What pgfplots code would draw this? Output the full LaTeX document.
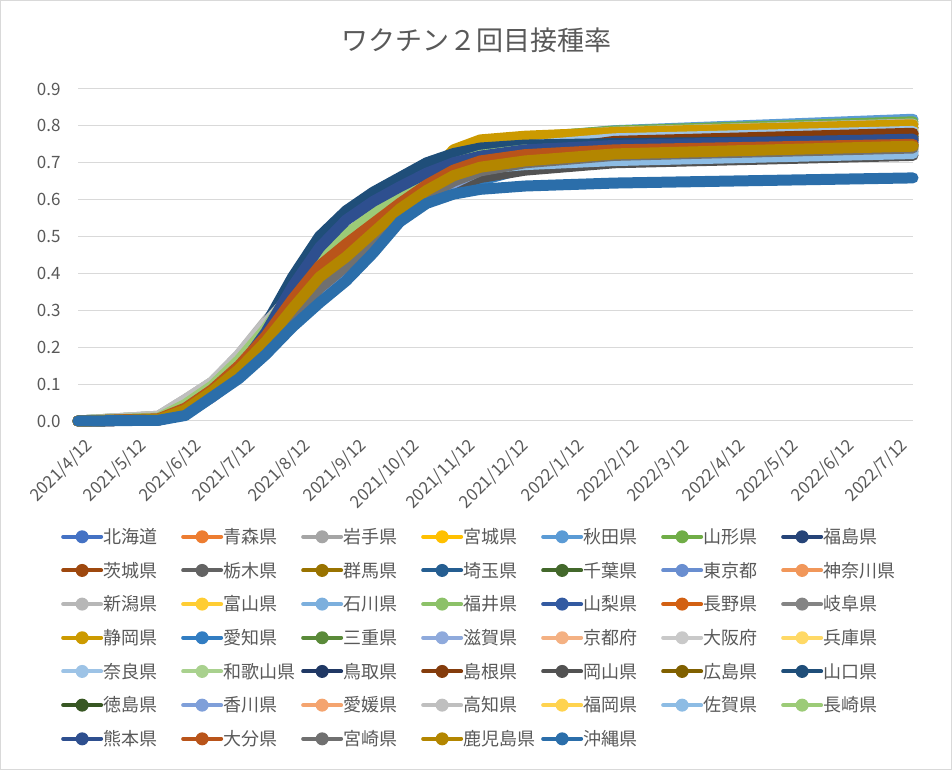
\documentclass[border=0pt]{standalone}
\usepackage{fontspec}
\setmainfont{Noto Sans CJK JP}
\usepackage{pgfplots}
\usepackage{pgfplotstable}
\pgfplotsset{compat=1.18}

\definecolor{txt}{HTML}{595959}
\definecolor{gridc}{HTML}{D9D9D9}
\definecolor{c1}{HTML}{4472C4}\definecolor{c2}{HTML}{ED7D31}\definecolor{c3}{HTML}{A5A5A5}
\definecolor{c4}{HTML}{FFC000}\definecolor{c5}{HTML}{5B9BD5}\definecolor{c6}{HTML}{70AD47}
\definecolor{c7}{HTML}{264478}\definecolor{c8}{HTML}{9E480E}\definecolor{c9}{HTML}{636363}
\definecolor{c10}{HTML}{997300}\definecolor{c11}{HTML}{255E91}\definecolor{c12}{HTML}{43682B}
\definecolor{c13}{HTML}{698ED0}\definecolor{c14}{HTML}{F1975A}\definecolor{c15}{HTML}{B7B7B7}
\definecolor{c16}{HTML}{FFCD33}\definecolor{c17}{HTML}{7CAFDD}\definecolor{c18}{HTML}{8CC168}
\definecolor{c19}{HTML}{335AA1}\definecolor{c20}{HTML}{D26012}\definecolor{c21}{HTML}{848484}
\definecolor{c22}{HTML}{CC9A00}\definecolor{c23}{HTML}{327DC2}\definecolor{c24}{HTML}{5A8A39}
\definecolor{c25}{HTML}{8FAADC}\definecolor{c26}{HTML}{F4B183}\definecolor{c27}{HTML}{C9C9C9}
\definecolor{c28}{HTML}{FFD966}\definecolor{c29}{HTML}{9DC3E6}\definecolor{c30}{HTML}{A9D18E}
\definecolor{c31}{HTML}{203864}\definecolor{c32}{HTML}{843C0C}\definecolor{c33}{HTML}{525252}
\definecolor{c34}{HTML}{806000}\definecolor{c35}{HTML}{1F4E79}\definecolor{c36}{HTML}{385723}
\definecolor{c37}{HTML}{7F9FD9}\definecolor{c38}{HTML}{F4A46F}\definecolor{c39}{HTML}{BFBFBF}
\definecolor{c40}{HTML}{FFD34F}\definecolor{c41}{HTML}{8DBCE4}\definecolor{c42}{HTML}{9CCB77}
\definecolor{c43}{HTML}{2E4F8F}\definecolor{c44}{HTML}{B9541A}\definecolor{c45}{HTML}{707070}
\definecolor{c46}{HTML}{B38600}\definecolor{c47}{HTML}{2B6EAA}

% one row per prefecture, columns = days since 2021/4/12
\pgfplotstableread{
name 0 45 60 75 90 105 120 135 150 165 180 195 210 225 250 300 467
p1 0 0.004 0.025 0.075 0.135 0.21 0.30 0.385 0.445 0.505 0.57 0.625 0.67 0.70 0.725 0.745 0.77
p2 0 0.003 0.022 0.07 0.13 0.20 0.29 0.375 0.44 0.50 0.565 0.625 0.675 0.71 0.735 0.755 0.775
p3 0 0.012 0.055 0.10 0.175 0.265 0.35 0.43 0.50 0.555 0.605 0.655 0.705 0.74 0.765 0.782 0.805
p4 0 0.006 0.035 0.085 0.15 0.235 0.335 0.43 0.495 0.55 0.60 0.65 0.70 0.735 0.76 0.775 0.795
p5 0 0.01 0.05 0.10 0.17 0.255 0.345 0.43 0.50 0.555 0.605 0.655 0.70 0.735 0.765 0.787 0.818
p6 0 0.012 0.055 0.105 0.175 0.265 0.35 0.435 0.505 0.56 0.61 0.66 0.705 0.74 0.768 0.786 0.811
p7 0 0.005 0.03 0.08 0.15 0.25 0.38 0.485 0.555 0.605 0.648 0.69 0.72 0.74 0.76 0.775 0.795
p8 0 0.004 0.025 0.075 0.135 0.21 0.30 0.39 0.45 0.51 0.57 0.625 0.675 0.71 0.735 0.755 0.778
p9 0 0.003 0.02 0.068 0.125 0.19 0.275 0.355 0.42 0.48 0.55 0.605 0.65 0.685 0.71 0.735 0.765
p10 0 0.004 0.03 0.08 0.14 0.215 0.305 0.39 0.45 0.51 0.575 0.63 0.675 0.705 0.73 0.75 0.77
p11 0 0.004 0.025 0.07 0.13 0.205 0.30 0.385 0.445 0.505 0.565 0.62 0.665 0.695 0.72 0.74 0.76
p12 0 0.004 0.025 0.072 0.132 0.205 0.295 0.38 0.44 0.50 0.565 0.62 0.665 0.70 0.725 0.745 0.765
p13 0 0.003 0.02 0.065 0.12 0.185 0.27 0.35 0.415 0.48 0.55 0.61 0.66 0.695 0.72 0.745 0.77
p14 0 0.003 0.02 0.065 0.12 0.185 0.27 0.35 0.415 0.48 0.55 0.605 0.655 0.69 0.715 0.74 0.765
p15 0 0.013 0.058 0.105 0.18 0.27 0.355 0.435 0.505 0.56 0.61 0.66 0.708 0.742 0.768 0.783 0.805
p16 0 0.006 0.035 0.085 0.15 0.23 0.33 0.42 0.485 0.54 0.595 0.645 0.69 0.72 0.745 0.765 0.79
p17 0 0.006 0.035 0.085 0.152 0.235 0.335 0.425 0.49 0.545 0.60 0.65 0.695 0.725 0.75 0.765 0.78
p18 0 0.01 0.05 0.10 0.172 0.262 0.35 0.435 0.505 0.56 0.61 0.66 0.705 0.735 0.755 0.77 0.785
p19 0 0.004 0.028 0.075 0.14 0.24 0.365 0.47 0.545 0.595 0.635 0.672 0.70 0.72 0.74 0.755 0.77
p20 0 0.006 0.035 0.085 0.15 0.23 0.33 0.42 0.48 0.535 0.59 0.64 0.685 0.715 0.74 0.76 0.78
p21 0 0.003 0.02 0.068 0.123 0.188 0.275 0.355 0.415 0.478 0.55 0.605 0.645 0.675 0.70 0.72 0.745
p22 0 0.005 0.03 0.08 0.145 0.225 0.32 0.41 0.47 0.53 0.59 0.655 0.735 0.762 0.772 0.782 0.803
p23 0 0.003 0.018 0.068 0.12 0.185 0.265 0.335 0.40 0.47 0.55 0.60 0.628 0.652 0.685 0.705 0.73
p24 0 0.005 0.03 0.08 0.145 0.225 0.32 0.41 0.475 0.53 0.585 0.635 0.68 0.71 0.735 0.755 0.775
p25 0 0.003 0.02 0.066 0.122 0.188 0.272 0.352 0.418 0.482 0.552 0.608 0.65 0.68 0.705 0.728 0.755
p26 0 0.003 0.021 0.068 0.125 0.19 0.278 0.358 0.425 0.488 0.555 0.61 0.652 0.682 0.705 0.725 0.75
p27 0 0.013 0.058 0.105 0.178 0.265 0.345 0.42 0.48 0.53 0.58 0.625 0.66 0.685 0.705 0.72 0.73
p28 0 0.005 0.03 0.08 0.145 0.222 0.315 0.40 0.46 0.52 0.578 0.63 0.665 0.69 0.71 0.725 0.745
p29 0 0.005 0.032 0.082 0.148 0.228 0.325 0.415 0.478 0.535 0.59 0.64 0.685 0.715 0.745 0.765 0.785
p30 0 0.012 0.055 0.10 0.175 0.262 0.348 0.43 0.495 0.55 0.60 0.65 0.69 0.715 0.73 0.74 0.75
p31 0 0.004 0.028 0.078 0.145 0.25 0.385 0.49 0.56 0.61 0.652 0.69 0.715 0.73 0.742 0.75 0.755
p32 0 0.005 0.03 0.08 0.145 0.225 0.32 0.41 0.47 0.525 0.58 0.63 0.675 0.70 0.725 0.758 0.78
p33 0 0.003 0.02 0.068 0.12 0.185 0.27 0.35 0.41 0.47 0.545 0.60 0.635 0.66 0.68 0.70 0.72
p34 0 0.004 0.028 0.078 0.138 0.212 0.30 0.385 0.44 0.505 0.57 0.625 0.665 0.69 0.712 0.73 0.748
p35 0 0.004 0.03 0.08 0.15 0.26 0.39 0.50 0.57 0.62 0.66 0.70 0.725 0.74 0.748 0.752 0.76
p36 0 0.004 0.026 0.075 0.135 0.21 0.30 0.385 0.442 0.505 0.568 0.622 0.662 0.69 0.71 0.728 0.745
p37 0 0.003 0.018 0.065 0.118 0.182 0.265 0.338 0.402 0.472 0.548 0.603 0.645 0.68 0.70 0.715 0.735
p38 0 0.004 0.024 0.072 0.13 0.20 0.29 0.37 0.43 0.492 0.56 0.615 0.66 0.69 0.712 0.728 0.742
p39 0 0.013 0.058 0.105 0.178 0.265 0.345 0.42 0.48 0.535 0.585 0.635 0.675 0.70 0.72 0.73 0.74
p40 0 0.005 0.032 0.082 0.15 0.228 0.325 0.415 0.478 0.535 0.59 0.64 0.68 0.705 0.722 0.73 0.738
p41 0 0.006 0.035 0.085 0.155 0.235 0.325 0.41 0.475 0.53 0.585 0.63 0.665 0.685 0.695 0.706 0.725
p42 0 0.008 0.045 0.095 0.165 0.25 0.355 0.45 0.505 0.56 0.61 0.655 0.698 0.72 0.735 0.74 0.745
p43 0 0.004 0.028 0.075 0.14 0.24 0.365 0.47 0.545 0.595 0.635 0.672 0.70 0.718 0.735 0.747 0.764
p44 0 0.006 0.035 0.085 0.15 0.23 0.33 0.42 0.48 0.535 0.59 0.64 0.68 0.705 0.722 0.735 0.75
p45 0 0.003 0.02 0.07 0.125 0.19 0.28 0.36 0.42 0.48 0.555 0.61 0.65 0.678 0.70 0.72 0.74
p46 0 0.004 0.03 0.08 0.14 0.215 0.305 0.39 0.445 0.51 0.575 0.625 0.665 0.688 0.705 0.724 0.745
p47 0 0.002 0.015 0.065 0.115 0.18 0.255 0.32 0.38 0.455 0.54 0.59 0.615 0.628 0.637 0.645 0.659
}\raw
\pgfplotstabletranspose[colnames from=name,input colnames to=day]\data\raw

\newcommand\lgent[1]{\makebox[78pt][l]{#1}}

\begin{document}
\begin{tikzpicture}
\draw[gridc,line width=1pt] (0.5pt,0.5pt) rectangle (951.5pt,769.5pt);
\node[text=txt,font=\fontsize{27}{27}\selectfont] at (476pt,730pt) {ワクチン２回目接種率};
\begin{axis}[
  at={(78pt,349pt)}, anchor=south west,
  scale only axis, width=835pt, height=332pt,
  xmin=0, xmax=467, ymin=0, ymax=0.9,
  clip=false,
  axis line style={draw=none},
  major tick length=0pt,
  ymajorgrids, grid style={gridc,line width=1pt},
  ytick={0,0.1,0.2,0.3,0.4,0.5,0.6,0.7,0.8,0.9},
  yticklabel style={font=\fontsize{17}{17}\selectfont,text=txt,xshift=-14pt,
    /pgf/number format/.cd,fixed,fixed zerofill,precision=1,assume math mode=true},
  xtick={0,30,61,91,122,153,183,214,244,275,306,334,365,395,426,456},
  xticklabels={2021/4/12,2021/5/12,2021/6/12,2021/7/12,2021/8/12,2021/9/12,2021/10/12,2021/11/12,2021/12/12,2022/1/12,2022/2/12,2022/3/12,2022/4/12,2022/5/12,2022/6/12,2022/7/12},
  xticklabel style={rotate=45,anchor=north east,font=\fontsize{17}{17}\selectfont,text=txt,inner sep=1pt,xshift=-6pt,yshift=-14pt},
  every axis plot/.append style={line width=11pt,line cap=round,line join=round},
  no markers,
  legend columns=7,
  legend cell align=left,
  legend style={at={(-0.024,-0.317)},anchor=north west,draw=none,fill=none,
    font=\fontsize{18}{18}\selectfont,text=txt,row sep=17pt,
    nodes={inner sep=0pt},
    /tikz/every odd column/.append style={column sep=0pt}},
  legend image code/.code={
    \draw[#1,line width=4pt,line cap=round] (0pt,0pt) -- (38pt,0pt);
    \fill[#1,draw=none] (19pt,0pt) circle (6.5pt);
  },
]
\pgfplotsinvokeforeach{1,...,47}{
  \addplot[c#1] table[x=day,y=p#1] {\data};
}
\legend{\lgent{北海道},\lgent{青森県},\lgent{岩手県},\lgent{宮城県},\lgent{秋田県},\lgent{山形県},\lgent{福島県},
\lgent{茨城県},\lgent{栃木県},\lgent{群馬県},\lgent{埼玉県},\lgent{千葉県},\lgent{東京都},\lgent{神奈川県},
\lgent{新潟県},\lgent{富山県},\lgent{石川県},\lgent{福井県},\lgent{山梨県},\lgent{長野県},\lgent{岐阜県},
\lgent{静岡県},\lgent{愛知県},\lgent{三重県},\lgent{滋賀県},\lgent{京都府},\lgent{大阪府},\lgent{兵庫県},
\lgent{奈良県},\lgent{和歌山県},\lgent{鳥取県},\lgent{島根県},\lgent{岡山県},\lgent{広島県},\lgent{山口県},
\lgent{徳島県},\lgent{香川県},\lgent{愛媛県},\lgent{高知県},\lgent{福岡県},\lgent{佐賀県},\lgent{長崎県},
\lgent{熊本県},\lgent{大分県},\lgent{宮崎県},\lgent{鹿児島県},\lgent{沖縄県}}
\end{axis}
\end{tikzpicture}
\end{document}
